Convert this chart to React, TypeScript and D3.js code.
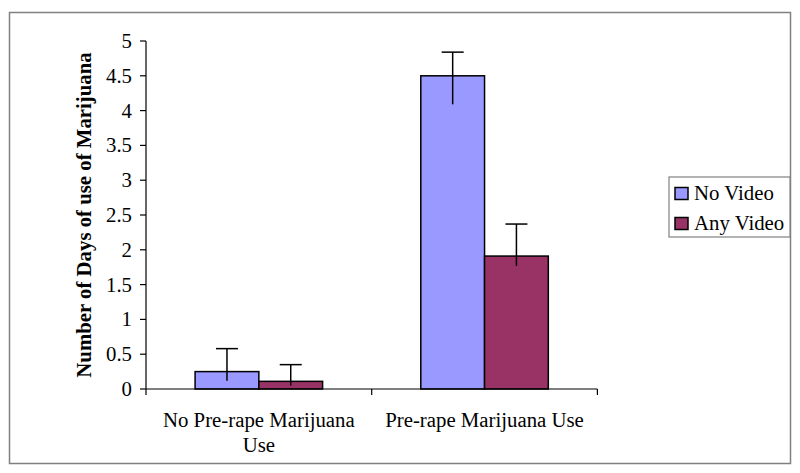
import * as d3 from "d3";
import { useEffect } from "react";

// data
const categories = ["No Pre-rape Marijuana Use", "Pre-rape Marijuana Use"];
const categoryLines = [["No Pre-rape Marijuana", "Use"], ["Pre-rape Marijuana Use"]];
const series = ["No Video", "Any Video"];
const seriesColors = ["#9999FF", "#993366"];
const noVideo = [0.25, 4.5];
const anyVideo = [0.11, 1.91];
const noVideoErrUp = [0.58, 4.84];
const noVideoErrLow = [0.12, 4.09];
const anyVideoErrUp = [0.35, 2.37];
const anyVideoErrLow = [0.05, 1.77];
const yTicks = [0, 0.5, 1, 1.5, 2, 2.5, 3, 3.5, 4, 4.5, 5];

const W = 800;
const H = 473;
const font = "'Liberation Serif', 'Times New Roman', serif";
const fs = 20.8;

export default function App() {
  useEffect(() => {
    document.body.style.margin = "0";
  }, []);

  const plot = { left: 146, right: 597.4, top: 41, bottom: 389 };

  const x = d3.scaleBand<string>().domain(categories).range([plot.left, plot.right]).paddingInner(0).paddingOuter(0);
  const xs = d3.scaleBand<string>().domain(series).range([0, x.bandwidth()]).paddingInner(0).paddingOuter(0.77);
  const y = d3.scaleLinear().domain([0, 5]).range([plot.bottom, plot.top]);

  const rows = categories.map((c, i) => ({
    cat: c,
    bars: [
      { s: series[0], v: noVideo[i], up: noVideoErrUp[i], lo: noVideoErrLow[i], color: seriesColors[0] },
      { s: series[1], v: anyVideo[i], up: anyVideoErrUp[i], lo: anyVideoErrLow[i], color: seriesColors[1] },
    ],
  }));

  const capHalf = 11;
  const xTickPos = [plot.left, ...categories.map((c) => x(c)! + x.bandwidth())];

  return (
    <svg width={W} height={H} style={{ display: "block", fontFamily: font }}>
      <rect x={9.5} y={12.5} width={781} height={451} fill="#fff" stroke="#808080" strokeWidth={1.5} />

      {/* bars */}
      {rows.map((r) =>
        r.bars.map((b) => {
          const bx = x(r.cat)! + xs(b.s)!;
          return (
            <rect
              key={r.cat + b.s}
              x={bx}
              y={y(b.v)}
              width={xs.bandwidth()}
              height={y(0) - y(b.v)}
              fill={b.color}
              stroke="#000"
              strokeWidth={1.5}
            />
          );
        })
      )}

      {/* error bars */}
      {rows.map((r) =>
        r.bars.map((b) => {
          const cx = x(r.cat)! + xs(b.s)! + xs.bandwidth() / 2;
          return (
            <g key={"e" + r.cat + b.s} stroke="#000" strokeWidth={1.5}>
              <line x1={cx} x2={cx} y1={y(b.up)} y2={y(b.lo)} />
              <line x1={cx - capHalf} x2={cx + capHalf} y1={y(b.up)} y2={y(b.up)} />
            </g>
          );
        })
      )}

      {/* y axis */}
      <line x1={plot.left} x2={plot.left} y1={plot.top} y2={plot.bottom} stroke="#000" strokeWidth={1.2} />
      {yTicks.map((t) => (
        <g key={t}>
          <line x1={plot.left - 6} x2={plot.left} y1={y(t)} y2={y(t)} stroke="#000" strokeWidth={1.2} />
          <text x={132} y={y(t)} dy="0.34em" textAnchor="end" fontSize={fs} fill="#000">
            {t}
          </text>
        </g>
      ))}

      {/* x axis */}
      <line x1={plot.left} x2={plot.right} y1={plot.bottom} y2={plot.bottom} stroke="#000" strokeWidth={1.2} />
      {xTickPos.map((px, i) => (
        <line key={i} x1={px} x2={px} y1={plot.bottom} y2={plot.bottom + 6} stroke="#000" strokeWidth={1.2} />
      ))}
      {categories.map((c, i) => (
        <text key={c} x={x(c)! + x.bandwidth() / 2} textAnchor="middle" fontSize={fs} fill="#000">
          {categoryLines[i].map((ln, j) => (
            <tspan key={j} x={x(c)! + x.bandwidth() / 2} y={426.7 + j * 25}>
              {ln}
            </tspan>
          ))}
        </text>
      ))}

      {/* y title */}
      <text
        transform={`translate(91,${(plot.top + plot.bottom) / 2}) rotate(-90)`}
        textAnchor="middle"
        fontSize={fs}
        fontWeight="bold"
        fill="#000"
      >
        Number of Days of use of Marijuana
      </text>

      {/* legend */}
      <rect x={669} y={177} width={121} height={60} fill="#fff" stroke="#808080" strokeWidth={1.2} />
      {series.map((s, i) => (
        <g key={s}>
          <rect x={675} y={187.5 + i * 30} width={13} height={12} fill={seriesColors[i]} stroke="#000" strokeWidth={1.5} />
          <text x={694} y={199.5 + i * 30} fontSize={fs} fill="#000">
            {s}
          </text>
        </g>
      ))}
    </svg>
  );
}
